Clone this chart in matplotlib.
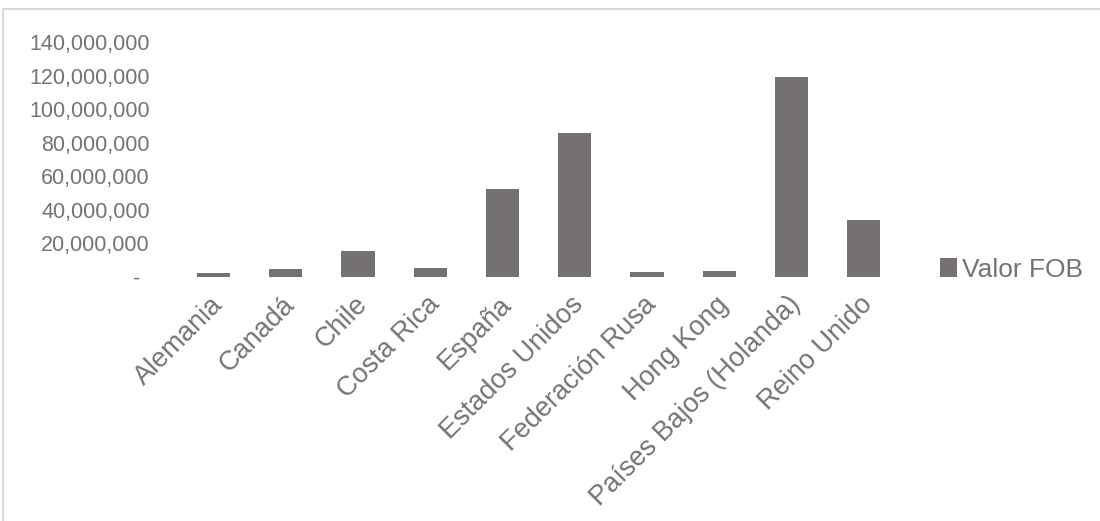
import numpy as np
import matplotlib.pyplot as plt
from matplotlib.patches import Rectangle
from matplotlib.ticker import FuncFormatter
from matplotlib.transforms import ScaledTranslation

# Valor FOB por país de destino
paises = ['Alemania', 'Canadá', 'Chile', 'Costa Rica', 'España', 'Estados Unidos',
          'Federación Rusa', 'Hong Kong', 'Países Bajos (Holanda)', 'Reino Unido']
valor_fob = [2400000, 4800000, 15500000, 5500000, 52600000, 85600000,
             3000000, 3400000, 119000000, 34000000]
yticks = [0, 20000000, 40000000, 60000000, 80000000, 100000000, 120000000, 140000000]

bar_color = '#767171'
text_color = '#747474'

plt.rcParams['font.family'] = ['Liberation Sans', 'DejaVu Sans']

fig = plt.figure(figsize=(11, 5.21), dpi=100)
ax = fig.add_axes([0.1614, 0.4683, 0.8180 - 0.1614, 0.9194 - 0.4683])

x = np.arange(len(paises))
ax.bar(x, valor_fob, width=0.46, color=bar_color, label='Valor FOB')

ax.set_xlim(-0.5, len(paises) - 0.5)
ax.set_ylim(0, 140000000)
ax.set_yticks(yticks)


def miles(v, pos):
    # formato contable: cero se muestra como guion
    if v == 0:
        return '-'
    return '{:,.0f}'.format(v)


ax.yaxis.set_major_formatter(FuncFormatter(miles))
ax.tick_params(axis='y', length=0, pad=20, labelsize=15.5, labelcolor=text_color)
ax.tick_params(axis='x', length=0, pad=17, labelsize=19.5, labelcolor=text_color)
ax.set_xticks(x)
ax.set_xticklabels(paises, rotation=45, ha='right', va='center', rotation_mode='anchor')

# desplazar las etiquetas del eje x unos pixeles a la derecha
shift = ScaledTranslation(5 / 100, 0, fig.dpi_scale_trans)
for lbl in ax.get_xticklabels():
    lbl.set_transform(lbl.get_transform() + shift)

# el guion del cero va un poco más a la izquierda
ax.yaxis.get_major_ticks()[0].set_pad(27)

for s in ax.spines.values():
    s.set_visible(False)

leg = ax.legend(loc='center left', bbox_to_anchor=(0.8545, 0.4827),
                bbox_transform=fig.transFigure, frameon=False,
                fontsize=19, handlelength=0.65, handleheight=0.72,
                handletextpad=0.2, borderaxespad=0, borderpad=0)
for t in leg.get_texts():
    t.set_color(text_color)

# borde del área del gráfico
fig.patches.append(Rectangle((3 / 1100, -0.05), 1.2, 1 - 9.5 / 521 + 0.05,
                             transform=fig.transFigure, fill=False,
                             edgecolor='#d9d9d9', linewidth=1.5))

fig.savefig('out.png', dpi=100)
